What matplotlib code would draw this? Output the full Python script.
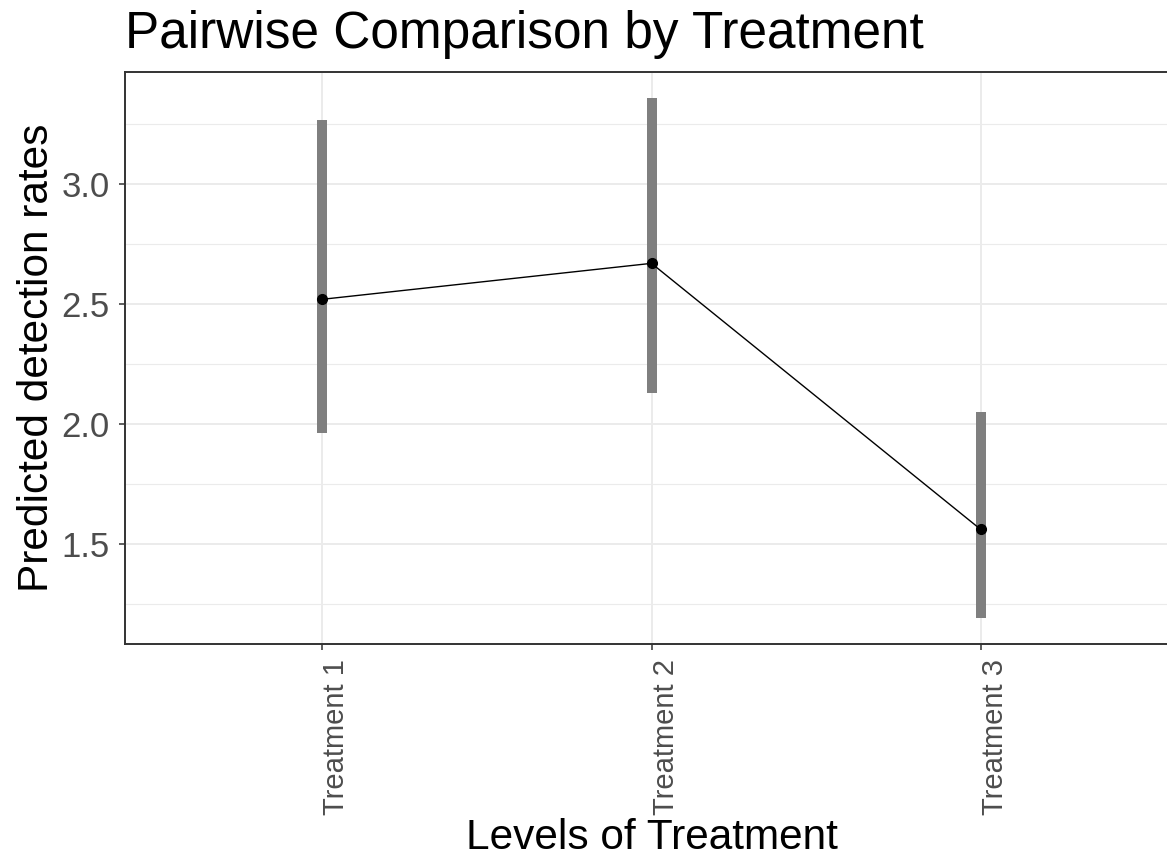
import numpy as np
import matplotlib
matplotlib.use("Agg")
import matplotlib.pyplot as plt
from matplotlib.ticker import MultipleLocator, FormatStrFormatter

# data
treatments = ["Treatment 1", "Treatment 2", "Treatment 3"]
predicted = [2.52, 2.67, 1.56]
lower = [1.96, 2.13, 1.19]
upper = [3.27, 3.36, 2.05]

plt.rcParams['font.family'] = ['Liberation Sans', 'DejaVu Sans']

fig = plt.figure(figsize=(11.67, 8.61), dpi=100)
# panel runs past the right edge, like the cropped original
ax = fig.add_axes([125 / 1167, 1 - 644 / 861, (1178 - 125) / 1167, (644 - 72) / 861])

x = np.arange(1, len(treatments) + 1)

# error bars (thick gray), then line + points
ax.vlines(x, lower, upper, colors="#7f7f7f", linewidth=7.2, zorder=3)
ax.plot(x, predicted, color="black", linewidth=1.0, zorder=4)
ax.plot(x, predicted, "o", color="black", markersize=7, zorder=5)

# ggplot style limits: discrete expand 0.6, continuous 5%
lo, hi = min(lower), max(upper)
pad = 0.05 * (hi - lo)
ax.set_ylim(lo - pad, hi + pad)
ax.set_xlim(0.4, len(treatments) + 0.6)

ax.set_xticks(x)
ax.set_xticklabels(treatments, rotation=90, fontsize=21, color="#4d4d4d", ha="left")
ax.yaxis.set_major_locator(MultipleLocator(0.5))
ax.yaxis.set_minor_locator(MultipleLocator(0.25))
ax.yaxis.set_major_formatter(FormatStrFormatter("%.1f"))
ax.tick_params(axis="y", labelsize=25, labelcolor="#4d4d4d")
ax.tick_params(axis="both", which="major", length=4, width=1.1, color="#333333", pad=7)
ax.tick_params(axis="y", which="minor", length=0)

ax.grid(True, which="major", color="#ebebeb", linewidth=1.4, zorder=0)
ax.grid(True, which="minor", axis="y", color="#ebebeb", linewidth=0.8, zorder=0)
ax.set_axisbelow(True)

for s in ax.spines.values():
    s.set_color("#333333")
    s.set_linewidth(1.4)

ax.set_ylabel("Predicted detection rates", fontsize=30.5, labelpad=3)
ax.set_xlabel("Levels of Treatment", fontsize=30.5, labelpad=2)
fig.text(125 / 1167, 1 - 48 / 861, "Pairwise Comparison by Treatment",
         fontsize=37, ha="left", va="baseline")

fig.savefig("out.png", dpi=100)
